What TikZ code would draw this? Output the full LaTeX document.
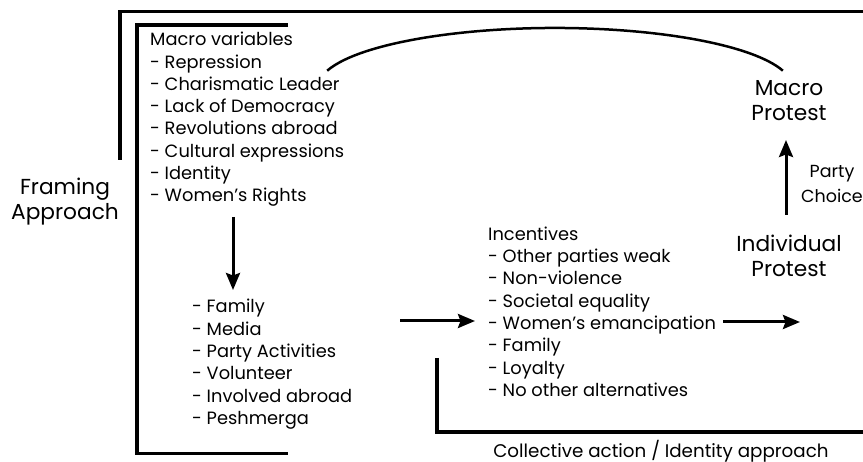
\documentclass[tikz,border=0pt]{standalone}
\usepackage{fontspec}
\setmainfont{Poppins}
\usetikzlibrary{arrows.meta}
\begin{document}
\begin{tikzpicture}[x=1pt,y=-1pt,
  bracket/.style={line width=3.2pt},
  flow/.style={line width=3pt,-{Stealth[length=17pt,width=14pt,inset=2.5pt]}},
  loop/.style={line width=2.5pt},
  listtext/.style={inner sep=0pt,anchor=north west,align=left,
    font=\fontsize{17.8}{22.3}\selectfont},
  labeltext/.style={inner sep=0pt,anchor=north,align=center,
    font=\fontsize{21.7}{25}\selectfont},
  smalllabel/.style={inner sep=0pt,anchor=north,align=center,
    font=\fontsize{17.5}{25.5}\selectfont},
]
\useasboundingbox (0,0) rectangle (863,462);

% Text blocks
\node[listtext] (macro) at (150,29.9) {\strut Macro variables\\- Repression\\- Charismatic Leader\\- Lack of Democracy\\- Revolutions abroad\\- Cultural expressions\\- Identity\\- Women’s Rights};
\node[listtext] (channels) at (192,297.1) {\strut - Family\\- Media\\- Party Activities\\- Volunteer\\- Involved abroad\\- Peshmerga};
\node[listtext] (incentives) at (488,224.4) {\strut Incentives\\- Other parties weak\\- Non-violence\\- Societal equality\\- Women’s emancipation\\- Family\\- Loyalty\\- No other alternatives};

\node[labeltext] (framing) at (65,176.5) {\strut Framing\\Approach};
\node[labeltext] (macroprotest) at (789,77.5) {\strut Macro\\Protest};
\node[labeltext] (indprotest) at (789,234.2) {\strut Individual\\Protest};
\node[smalllabel] (party) at (832,159.2) {\strut Party\\Choice};
\node[inner sep=0pt,anchor=base,font=\fontsize{18.3}{22.3}\selectfont] (collective) at (661,457) {Collective action / Identity approach};

% Brackets framing the approaches
\draw[bracket] (120,160) -- (120,11.7) -- (864,11.7);
\draw[bracket] (288,25) -- (137,25) -- (137,453.3) -- (288,453.3);
\draw[bracket] (437,358) -- (437,432) -- (864,432);

% Arrow end points
\coordinate (downA) at (233,217);
\coordinate (downB) at (233,290);
\coordinate (midA) at (400,321);
\coordinate (midB) at (475,321);
\coordinate (rightA) at (723,322);
\coordinate (rightB) at (800,322);
\coordinate (upA) at (786,215);
\coordinate (upB) at (786,140);
\coordinate (loopA) at (327.2,70.7);

\draw[flow] (downA) -- (downB);
\draw[flow] (midA) -- (midB);
\draw[flow] (rightA) -- (rightB);
\draw[flow] (upA) -- (upB);

% Feedback arc from the macro variables to the macro protest
\draw[loop] (loopA) arc[start angle=164, end angle=16, x radius=237pt, y radius=59pt];
\end{tikzpicture}
\end{document}
